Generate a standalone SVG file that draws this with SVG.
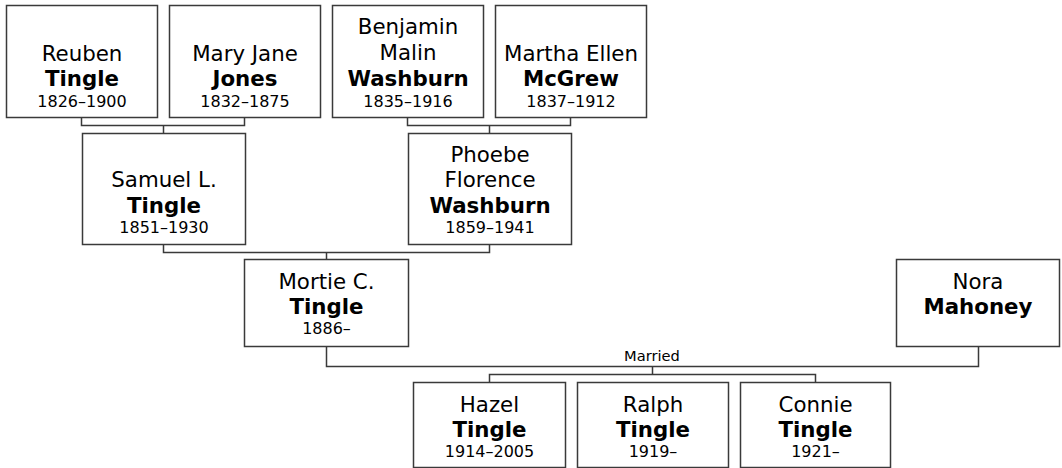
<svg xmlns="http://www.w3.org/2000/svg" width="1062" height="468" viewBox="0 0 1062 468">
<style>
.box{fill:#fff;stroke:#3a3a3a;stroke-width:1.5}
.conn{fill:none;stroke:#3a3a3a;stroke-width:1.5}
text{font-family:"DejaVu Sans",Verdana,sans-serif;fill:#000;text-anchor:middle}
.n{font-size:21.33px}
.s{font-size:21.33px;font-weight:bold}
.d{font-size:16px}
.m{font-size:14.67px}
</style>
<rect width="1062" height="468" fill="#fff"/>
<g id="connectors">
<path class="conn" d="M81.5 117V125.5H244.5V117M163.5 125.5V133"/>
<path class="conn" d="M407.5 117V125.5H570.5V117M489.5 125.5V133"/>
<path class="conn" d="M163.5 244V252.5H489.5V244M326.5 252.5V259"/>
<path class="conn" d="M326.5 346V366.5H978.5V346M652.5 366.5V374.5"/>
<path class="conn" d="M489.5 382V374.5H815.5V382"/>
<text class="m" x="652" y="361">Married</text>
</g>
<g id="reuben"><rect class="box" x="6.5" y="5.5" width="151" height="112"/>
<text class="n" x="82" y="61">Reuben</text><text class="s" x="82" y="86">Tingle</text><text class="d" x="82" y="107">1826–1900</text></g>
<g id="maryjane"><rect class="box" x="169.5" y="5.5" width="151" height="112"/>
<text class="n" x="245" y="61">Mary Jane</text><text class="s" x="245" y="86">Jones</text><text class="d" x="245" y="107">1832–1875</text></g>
<g id="benjamin"><rect class="box" x="332.5" y="5.5" width="151" height="112"/>
<text class="n" x="408" y="34">Benjamin</text><text class="n" x="408" y="60">Malin</text><text class="s" x="408" y="86">Washburn</text><text class="d" x="408" y="107">1835–1916</text></g>
<g id="martha"><rect class="box" x="495.5" y="5.5" width="151" height="112"/>
<text class="n" x="571" y="61">Martha Ellen</text><text class="s" x="571" y="86">McGrew</text><text class="d" x="571" y="107">1837–1912</text></g>
<g id="samuel"><rect class="box" x="82.5" y="133.5" width="163" height="111"/>
<text class="n" x="164" y="187">Samuel L.</text><text class="s" x="164" y="213">Tingle</text><text class="d" x="164" y="233">1851–1930</text></g>
<g id="phoebe"><rect class="box" x="408.5" y="133.5" width="163" height="111"/>
<text class="n" x="490" y="162">Phoebe</text><text class="n" x="490" y="187">Florence</text><text class="s" x="490" y="213">Washburn</text><text class="d" x="490" y="233">1859–1941</text></g>
<g id="mortie"><rect class="box" x="244.5" y="259.5" width="164" height="87"/>
<text class="n" x="326.5" y="289">Mortie C.</text><text class="s" x="326.5" y="314">Tingle</text><text class="d" x="326.5" y="334">1886–</text></g>
<g id="nora"><rect class="box" x="896.5" y="259.5" width="163" height="87"/>
<text class="n" x="978" y="289">Nora</text><text class="s" x="978" y="314">Mahoney</text></g>
<g id="hazel"><rect class="box" x="413.5" y="382.5" width="152" height="85"/>
<text class="n" x="489.5" y="412">Hazel</text><text class="s" x="489.5" y="437">Tingle</text><text class="d" x="489.5" y="457">1914–2005</text></g>
<g id="ralph"><rect class="box" x="577.5" y="382.5" width="151" height="85"/>
<text class="n" x="653" y="412">Ralph</text><text class="s" x="653" y="437">Tingle</text><text class="d" x="653" y="457">1919–</text></g>
<g id="connie"><rect class="box" x="740.5" y="382.5" width="150" height="85"/>
<text class="n" x="815.5" y="412">Connie</text><text class="s" x="815.5" y="437">Tingle</text><text class="d" x="815.5" y="457">1921–</text></g>
</svg>
